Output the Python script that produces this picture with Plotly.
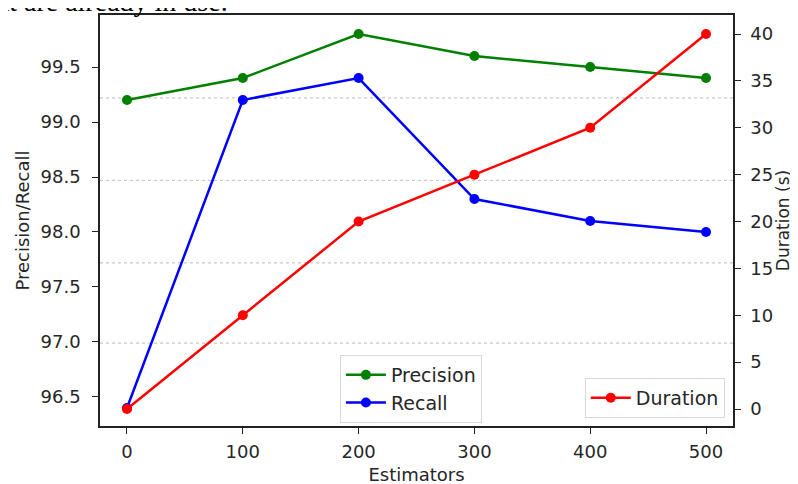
import plotly.graph_objects as go

estimators = [0, 100, 200, 300, 400, 500]
precision = [99.2, 99.4, 99.8, 99.6, 99.5, 99.4]
recall = [96.4, 99.2, 99.4, 98.3, 98.1, 98.0]
duration = [0, 10, 20, 25, 30, 40]

left_ticks = [96.5, 97.0, 97.5, 98.0, 98.5, 99.0, 99.5]
right_ticks = [0, 5, 10, 15, 20, 25, 30, 35, 40]
x_ticks = [0, 100, 200, 300, 400, 500]
grid_levels = [96.99, 97.72, 98.47, 99.22]

FONT = "DejaVu Sans"
TXT = "#262626"

fig = go.Figure()

for yv in grid_levels:
    fig.add_shape(type="line", xref="paper", x0=0, x1=1, yref="y", y0=yv, y1=yv,
                  line=dict(color="#c8c8c8", width=1.2, dash="dot"), layer="below")

fig.add_trace(go.Scatter(x=estimators, y=precision, name="Precision", mode="lines+markers",
                         line=dict(color="green", width=2.5), marker=dict(size=10, color="green"),
                         legend="legend"))
fig.add_trace(go.Scatter(x=estimators, y=recall, name="Recall", mode="lines+markers",
                         line=dict(color="blue", width=2.5), marker=dict(size=10, color="blue"),
                         legend="legend"))
fig.add_trace(go.Scatter(x=estimators, y=duration, name="Duration", mode="lines+markers",
                         line=dict(color="red", width=2.5), marker=dict(size=10, color="red"),
                         yaxis="y2", legend="legend2"))

axis_common = dict(showgrid=False, zeroline=False, showline=True, linecolor="#222",
                   linewidth=1.5, ticks="outside", ticklen=6, tickwidth=1.2, tickcolor="#222",
                   automargin=False,
                   tickfont=dict(family=FONT, size=18, color=TXT))

fig.update_layout(
    width=798, height=484,
    margin=dict(l=92, r=73, t=7, b=66),
    paper_bgcolor="white", plot_bgcolor="white",
    showlegend=True,
    xaxis=dict(range=[-23.3, 523.3], tickvals=x_ticks, mirror=True, ticklabelstandoff=3,
               title=dict(text="Estimators", font=dict(family=FONT, size=18, color=TXT), standoff=7),
               **axis_common),
    yaxis=dict(range=[96.236, 99.973], tickvals=left_ticks, ticktext=[f"{v:.1f}" for v in left_ticks],
               ticklabelstandoff=8,
               title=dict(text="Precision/Recall", font=dict(family=FONT, size=18, color=TXT), standoff=6),
               **axis_common),
    yaxis2=dict(range=[-1.81, 42.03], tickvals=right_ticks, overlaying="y", side="right",
                ticklabelstandoff=6,
                title=dict(text="Duration (s)", font=dict(family=FONT, size=17, color=TXT), standoff=0),
                **axis_common),
    legend=dict(x=0.379, y=0.1727, xanchor="left", yanchor="top",
                bgcolor="rgba(255,255,255,0.8)", bordercolor="#d9d9d9", borderwidth=1,
                font=dict(family=FONT, size=19, color=TXT), tracegroupgap=0, itemwidth=40),
    legend2=dict(x=0.987, y=0.0195, xanchor="right", yanchor="bottom",
                 bgcolor="rgba(255,255,255,0.8)", bordercolor="#d9d9d9", borderwidth=1,
                 font=dict(family=FONT, size=19, color=TXT), itemwidth=40),
    annotations=[dict(text="that are already in use.", xref="paper", yref="paper",
                      x=(230 - 100) / 633, y=(426 - 19) / 411, xanchor="right", yanchor="bottom",
                      showarrow=False, font=dict(family="Liberation Serif", size=28, color="black"))],
)

fig.write_html("out.html")
